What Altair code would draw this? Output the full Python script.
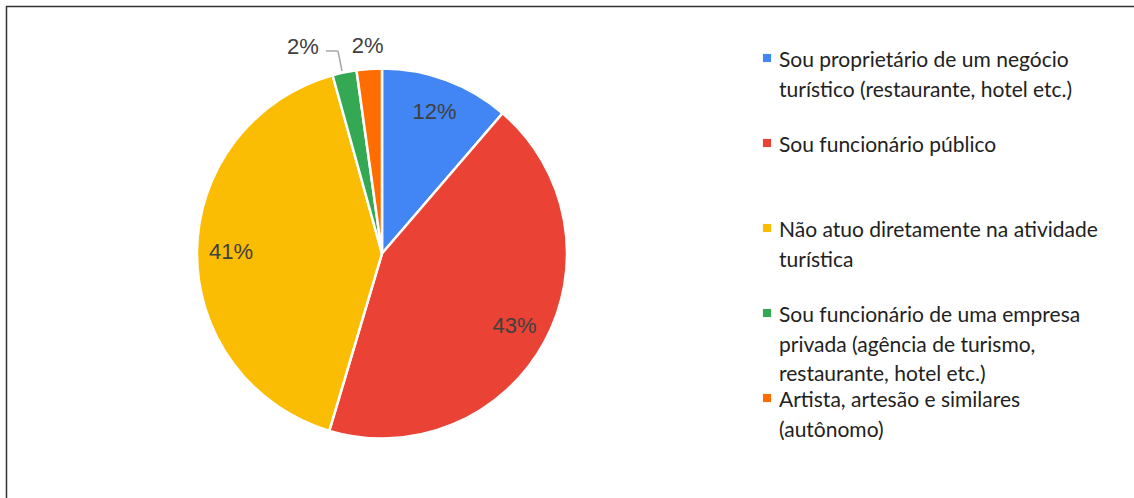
import altair as alt
import pandas as pd

categories = [
    "Sou proprietário de um negócio\nturístico (restaurante, hotel etc.)",
    "Sou funcionário público",
    "Não atuo diretamente na atividade\nturística",
    "Sou funcionário de uma empresa\nprivada (agência de turismo,\nrestaurante, hotel etc.)",
    "Artista, artesão e similares\n(autônomo)",
]
# slice sizes
values = [11.3, 43.3, 41.1, 2.1, 2.2]
# percentage labels as printed on the chart
labels = ["12%", "43%", "41%", "2%", "2%"]
colors = ["#4285F4", "#EA4335", "#FBBC04", "#34A853", "#FF6D01"]

df = pd.DataFrame({"cat": categories, "value": values, "label": labels,
                   "idx": list(range(len(values)))})

W, H = 1134, 498
CX, CY, R = 382, 253.5, 185

color = alt.Color("cat:N", scale=alt.Scale(domain=categories, range=colors), legend=None)

base = alt.Chart(df)
theta = alt.Theta("value:Q", stack=True)
order = alt.Order("idx:Q")

pie = base.mark_arc(radius=R, stroke="white", strokeWidth=2.5).encode(
    theta=theta, order=order, x=alt.value(CX), y=alt.value(CY), color=color
)

txt_style = dict(font="Liberation Sans", fontSize=22, color="#404040")

inner = base.mark_text(radius=151, **txt_style).encode(
    theta=theta, order=order, x=alt.value(CX), y=alt.value(CY), text="label:N",
    opacity=alt.condition("datum.value >= 5", alt.value(1), alt.value(0)),
)
small_green = base.mark_text(radius=208, dx=-37, dy=-3, **txt_style).encode(
    theta=theta, order=order, x=alt.value(CX), y=alt.value(CY), text="label:N",
    opacity=alt.condition("datum.idx == 3", alt.value(1), alt.value(0)),
)
small_orange = base.mark_text(radius=208, **txt_style).encode(
    theta=theta, order=order, x=alt.value(CX), y=alt.value(CY), text="label:N",
    opacity=alt.condition("datum.idx == 4", alt.value(1), alt.value(0)),
)

leader_v = alt.Chart(df.head(1)).mark_rule(color="#a8a8a8", strokeWidth=1.5).encode(
    x=alt.value(338), y=alt.value(51), x2=alt.value(342), y2=alt.value(71)
)
leader_h = alt.Chart(df.head(1)).mark_rule(color="#a8a8a8", strokeWidth=1.5).encode(
    x=alt.value(326), y=alt.value(51), x2=alt.value(338), y2=alt.value(51)
)

# manual legend
ly = alt.Y("idx:O", scale=alt.Scale(type="point", range=[67, 407], padding=0), axis=None)
leg_sym = alt.Chart(df).mark_square(size=66, opacity=1, yOffset=-9).encode(
    x=alt.value(767), y=ly, color=color
)
leg_txt = alt.Chart(df).mark_text(
    align="left", baseline="alphabetic", lineBreak="\n", lineHeight=29.6,
    font="Lato", fontSize=21, color="#222222",
).encode(x=alt.value(779), y=ly, text="cat:N")

frame_top = alt.Chart(df.head(1)).mark_rule(color="#333333", strokeWidth=1.5).encode(
    x=alt.value(6), y=alt.value(6.5), x2=alt.value(W + 10), y2=alt.value(6.5)
)
frame_left = alt.Chart(df.head(1)).mark_rule(color="#333333", strokeWidth=1.5).encode(
    x=alt.value(6.5), y=alt.value(6), x2=alt.value(6.5), y2=alt.value(H + 10)
)

chart = alt.layer(
    pie, inner, small_green, small_orange, leader_v, leader_h, leg_sym, leg_txt, frame_top, frame_left
).properties(
    width=W, height=H, padding=0, autosize=alt.AutoSizeParams(type="none")
).configure_view(stroke=None)

chart.save("out.html", embed_options={"renderer": "svg", "actions": False})
